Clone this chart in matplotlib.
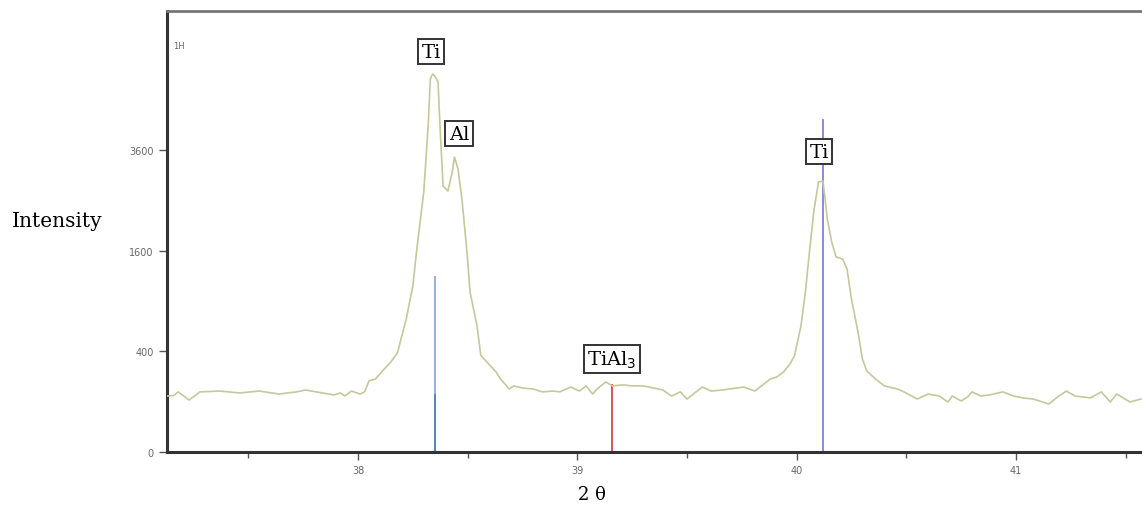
import matplotlib.pyplot as plt
import numpy as np

# XRD scan (2 theta in degrees, intensity in counts)
two_theta = [37.13, 37.16, 37.18, 37.23, 37.28, 37.37, 37.46, 37.55, 37.64, 37.72,
             37.76, 37.81, 37.89, 37.92, 37.94, 37.97, 38.01, 38.03, 38.05, 38.08,
             38.10, 38.12, 38.15, 38.18, 38.22, 38.25, 38.27, 38.30, 38.32, 38.33,
             38.34, 38.35, 38.365, 38.374, 38.388, 38.41, 38.43, 38.44, 38.456, 38.474,
             38.497, 38.511, 38.543, 38.56, 38.60, 38.63, 38.65, 38.69, 38.71, 38.75,
             38.80, 38.84, 38.89, 38.92, 38.97, 39.01, 39.04, 39.07, 39.09, 39.13,
             39.16, 39.21, 39.25, 39.30, 39.35, 39.39, 39.43, 39.47, 39.50, 39.57,
             39.61, 39.66, 39.76, 39.81, 39.88, 39.91, 39.94, 39.97, 39.99, 40.02,
             40.04, 40.06, 40.08, 40.10, 40.12, 40.13, 40.14, 40.16, 40.18, 40.21,
             40.23, 40.25, 40.28, 40.30, 40.32, 40.36, 40.40, 40.46, 40.49, 40.55,
             40.60, 40.65, 40.69, 40.71, 40.75, 40.78, 40.80, 40.84, 40.88, 40.94,
             40.99, 41.03, 41.08, 41.15, 41.19, 41.23, 41.27, 41.34, 41.39, 41.43,
             41.46, 41.52, 41.57]
intensity = [124, 126, 143, 107, 143, 147, 138, 147, 133, 143,
             152, 143, 129, 138, 124, 147, 133, 143, 200, 211,
             241, 273, 321, 390, 700, 1091, 1681, 2677, 4209, 5510,
             5658, 5599, 5422, 4209, 2802, 2698, 3105, 3446, 3172, 2535,
             1584, 1014, 629, 370, 300, 253, 211, 157, 173, 162,
             157, 143, 147, 143, 167, 147, 173, 133, 157, 194,
             173, 178, 173, 173, 162, 152, 124, 143, 111, 167,
             147, 152, 167, 147, 211, 223, 253, 307, 365, 629,
             1014, 1632, 2338, 2887, 2908, 2535, 2150, 1747, 1506, 1475,
             1326, 927, 570, 343, 260, 211, 173, 157, 143, 111,
             133, 124, 99, 124, 103, 120, 143, 124, 129, 143,
             124, 116, 111, 91, 120, 147, 124, 116, 143, 99,
             133, 99, 111]

# reference phase lines
ref_pos = [38.35, 38.35, 39.16, 40.12]
ref_height = [1226, 133, 183, 4392]
ref_color = ['#8fa8dc', '#4d86b5', '#d9434a', '#8080dd']

# peak labels
lab_text = ['Ti', 'Al', 'TiAl$_3$', 'Ti']
lab_x = [38.333, 38.461, 39.158, 40.102]
lab_y = [6340, 4005, 342, 3564]

y_ticks = [0, 400, 1600, 3600]
x_ticks = [38, 39, 40, 41]

fig = plt.figure(figsize=(11.42, 5.10), dpi=100)
ax = fig.add_axes([0.1462, 0.1118, 0.8538, 0.8647])

ax.set_yscale('function', functions=(lambda v: np.sqrt(np.clip(v, 0, None)), np.square))

for x, h, c in zip(ref_pos, ref_height, ref_color):
    ax.vlines(x, 0, h, color=c, lw=1.3, zorder=2)

ax.plot(two_theta, intensity, color='#c6c79b', lw=1.2, zorder=3)

for t, x, y in zip(lab_text, lab_x, lab_y):
    ax.text(x, y, t, ha='center', va='center', fontsize=14, family='DejaVu Serif',
            bbox=dict(boxstyle='square,pad=0.18', fc='white', ec='#333333', lw=1.4),
            zorder=5)

ax.set_xlim(37.129, 41.575)
ax.set_ylim(0, 7702)
ax.set_yticks(y_ticks)
ax.set_xticks(x_ticks)
ax.set_xticks(np.arange(37.5, 41.6, 1.0), minor=True)
ax.tick_params(axis='both', which='major', labelsize=7, labelcolor='#666666', color='#555555',
               direction='out', length=6, width=1)
ax.tick_params(axis='x', which='minor', length=4, width=1, color='#555555', direction='out')

ax.spines['right'].set_visible(False)
ax.spines['left'].set_color('#333333')
ax.spines['bottom'].set_color('#333333')
ax.spines['left'].set_linewidth(2.2)
ax.spines['bottom'].set_linewidth(2.2)
ax.spines['top'].set_color('#777777')
ax.spines['top'].set_linewidth(2)

ax.text(0.006, 0.915, '1H', transform=ax.transAxes, fontsize=6, color='#666666')

fig.text(0.0105, 0.565, 'Intensity', fontsize=14.5, family='DejaVu Serif', va='center')
fig.text(0.518, 0.03, '2 θ', fontsize=13, family='DejaVu Serif', ha='center', va='center')

fig.savefig('out.png', dpi=100)
